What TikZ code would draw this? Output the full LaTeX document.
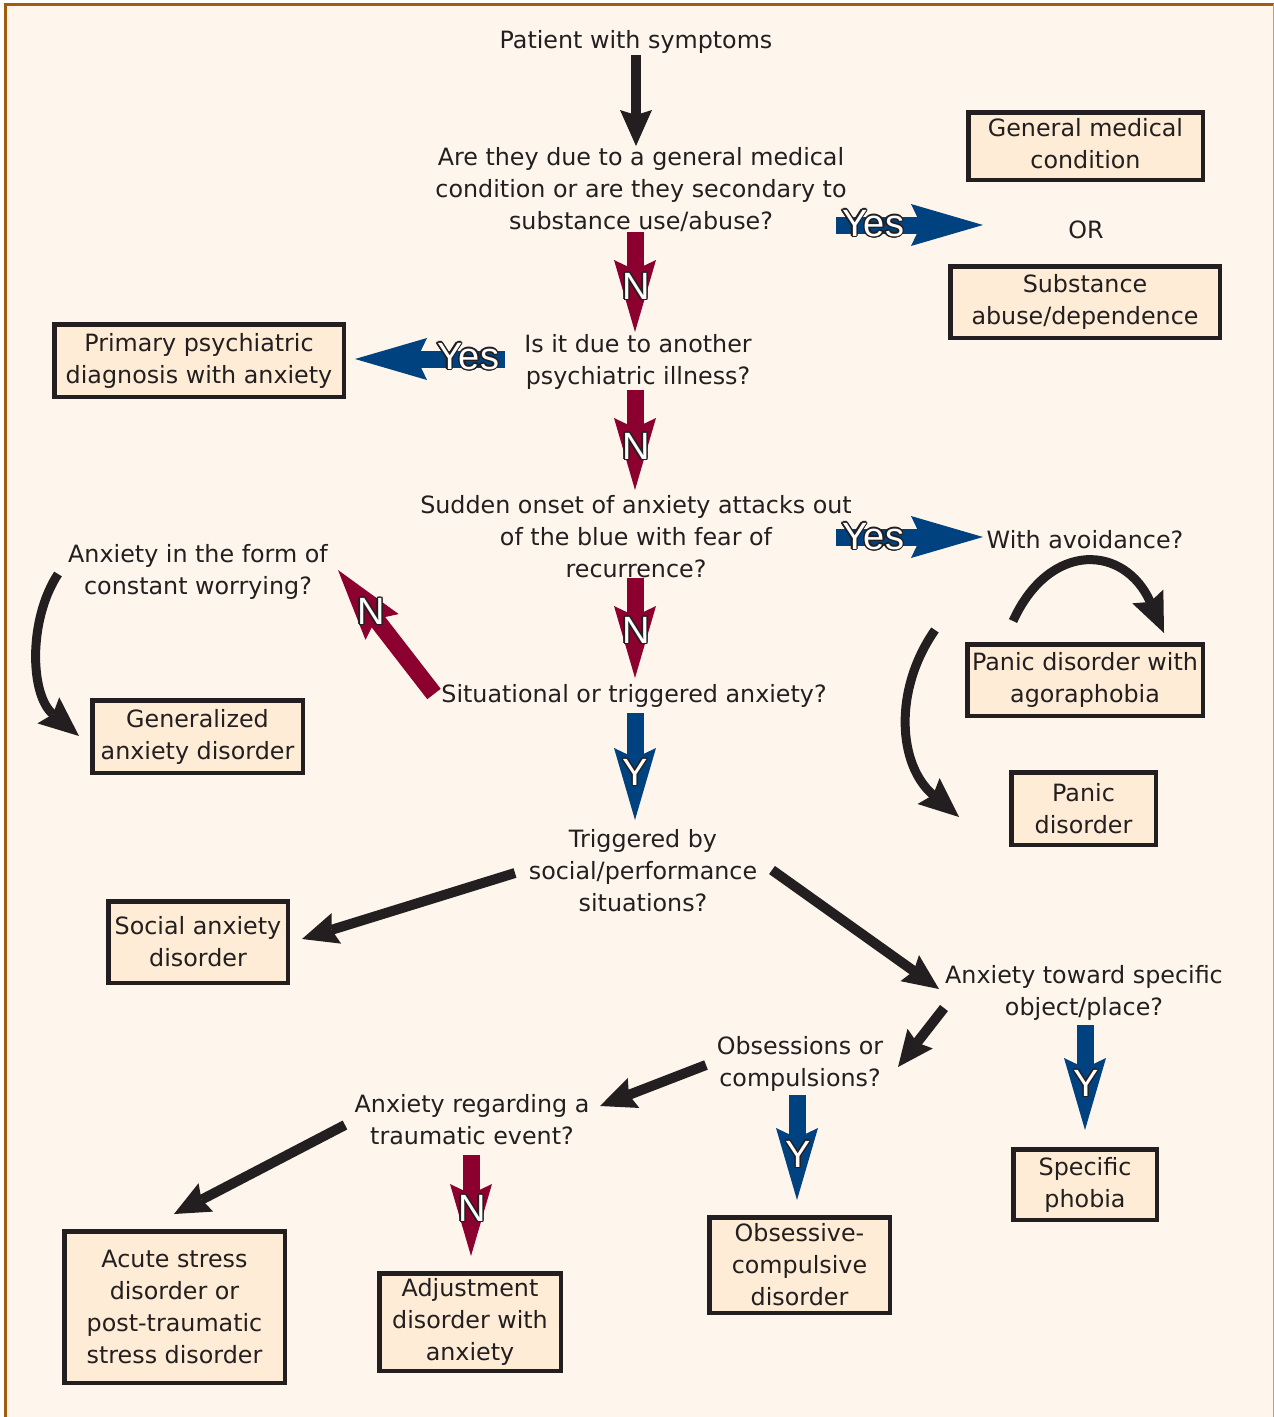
\documentclass[tikz,border=0pt]{standalone}
\usepackage{fontspec}
\setmainfont{DejaVu Sans}
\newfontfamily\labfont{Liberation Sans}
\usepackage{contour}
\usetikzlibrary{arrows.meta}
\definecolor{bgc}{HTML}{FEF6EC}
\definecolor{boxc}{HTML}{FEECD6}
\definecolor{inkc}{HTML}{231F20}
\definecolor{bluec}{HTML}{00427F}
\definecolor{redc}{HTML}{8C0030}
\definecolor{framec}{HTML}{A35C0C}
\contourlength{1.3pt}
\tikzset{
  txt/.style={inner sep=0pt, align=center, text=inkc, font=\fontsize{23.8}{32}\selectfont},
  qtxt/.style={txt, yshift=-2.5pt},
  box/.style={draw=inkc, line width=4.5pt, fill=boxc, inner sep=0pt},
  blk/.style={draw=inkc, line width=10pt, -{Stealth[length=36pt,width=32pt,inset=5pt,line width=0pt]}},
  carr/.style={draw=inkc, line width=9pt, -{Stealth[length=40pt,width=34pt,inset=6pt,line width=0pt]}},
  colarr/.style={draw=#1, line width=17pt, -{Stealth[length=72pt,width=42pt,inset=10pt,line width=0pt]}},
  lab/.style={inner sep=0pt, font=\labfont\fontsize{38}{38}\selectfont}
}
\newcommand{\lbl}[1]{\contour{inkc}{\textcolor{white}{#1}}}
\begin{document}
\begin{tikzpicture}[x=1pt,y=-1pt]
\useasboundingbox (0,0) rectangle (1274,1417);
\fill[white] (0,0) rectangle (1274,1417);
\fill[bgc] (4,3) rectangle (1274,1417);
\draw[framec, line width=3pt] (5.5,1417) -- (5.5,4.5) -- (1274,4.5);
\draw[framec!60, line width=1pt] (1273,4) -- (1273,1417);

% question texts
\node[qtxt] (pat) at (636,39) {Patient with symptoms};
\node[qtxt] (q1) at (641,187) {Are they due to a general medical\\condition or are they secondary to\\substance use/abuse?};
\node[qtxt] (q2) at (638,359) {Is it due to another\\psychiatric illness?};
\node[qtxt] (q3) at (636,534) {Sudden onset of anxiety attacks out\\of the blue with fear of\\recurrence?};
\node[qtxt] (q4) at (634,693) {Situational or triggered anxiety?};
\node[qtxt] (q5) at (643,868) {Triggered by\\social/performance\\situations?};
\node[qtxt] (q6) at (1084,990) {Anxiety toward specific\\object/place?};
\node[qtxt] (q7) at (800,1061) {Obsessions or\\compulsions?};
\node[qtxt] (q8) at (472,1117) {Anxiety regarding a\\traumatic event?};
\node[qtxt] (wa) at (1085,537) {With avoidance?};
\node[qtxt] (aw) at (198,569) {Anxiety in the form of\\constant worrying?};
\node[qtxt] (or) at (1086,227) {OR};

% boxes
\node[box, minimum width=234.5pt, minimum height=67.5pt] (gmc) at (1085.5,146) {};
\node[box, minimum width=269.5pt, minimum height=71.5pt] (sub) at (1085,302) {};
\node[box, minimum width=289.5pt, minimum height=72.5pt] (ppd) at (199,360.5) {};
\node[box, minimum width=235.5pt, minimum height=71.5pt] (pda) at (1085,680) {};
\node[box, minimum width=144.5pt, minimum height=72.5pt] (pd) at (1083.5,808.5) {};
\node[box, minimum width=210.5pt, minimum height=72.5pt] (gad) at (197.5,736.5) {};
\node[box, minimum width=179.5pt, minimum height=81.5pt] (sad) at (198,942) {};
\node[box, minimum width=143.5pt, minimum height=70.5pt] (sp) at (1085,1184.5) {};
\node[box, minimum width=180.5pt, minimum height=95.5pt] (ocd) at (799.5,1265) {};
\node[box, minimum width=220.5pt, minimum height=151.5pt] (asd) at (174.5,1307) {};
\node[box, minimum width=181.5pt, minimum height=97.5pt] (adj) at (470,1322) {};

\node[txt] (gmct) at ([yshift=2pt]gmc.center) {General medical\\condition};
\node[txt] (subt) at (sub.center) {Substance\\abuse/dependence};
\node[txt] (ppdt) at (ppd.center) {Primary psychiatric\\diagnosis with anxiety};
\node[txt] (pdat) at (pda.center) {Panic disorder with\\agoraphobia};
\node[txt] (pdt) at (pd.center) {Panic\\disorder};
\node[txt] (gadt) at (gad.center) {Generalized\\anxiety disorder};
\node[txt] (sadt) at (sad.center) {Social anxiety\\disorder};
\node[txt] (spt) at (sp.center) {Specific\\phobia};
\node[txt] (ocdt) at (ocd.center) {Obsessive-\\compulsive\\disorder};
\node[txt] (asdt) at (asd.center) {Acute stress\\disorder or\\post-traumatic\\stress disorder};
\node[txt] (adjt) at (adj.center) {Adjustment\\disorder with\\anxiety};

% connector end points
\coordinate (p0) at (636,55);   \coordinate (p1) at (636,146);
\coordinate (a0) at (836,225);  \coordinate (a1) at (983,225);
\coordinate (b0) at (635,232);  \coordinate (b1) at (635,332);
\coordinate (c0) at (505,359);  \coordinate (c1) at (355,359);
\coordinate (d0) at (635,390);  \coordinate (d1) at (635,490);
\coordinate (e0) at (836,537);  \coordinate (e1) at (983,537);
\coordinate (f0) at (635,578);  \coordinate (f1) at (635,678);
\coordinate (g0) at (434,694);  \coordinate (g1) at (338,570);
\coordinate (h0) at (635,713);  \coordinate (h1) at (635,820);
\coordinate (i0) at (515,873);  \coordinate (i1) at (302,939);
\coordinate (j0) at (772,870);  \coordinate (j1) at (939,989);
\coordinate (k0) at (1085,1025); \coordinate (k1) at (1085,1130);
\coordinate (l0) at (944,1008); \coordinate (l1) at (898,1067);
\coordinate (m0) at (797,1095); \coordinate (m1) at (797,1200);
\coordinate (n0) at (706,1065); \coordinate (n1) at (600,1106);
\coordinate (o0) at (345,1125); \coordinate (o1) at (174,1214);
\coordinate (r0) at (471,1155); \coordinate (r1) at (471,1256);
\coordinate (s0) at (1013,621); \coordinate (s1) at (1164,633);
\coordinate (t0) at (935,630);  \coordinate (t1) at (959,817);
\coordinate (u0) at (58,574);   \coordinate (u1) at (79,736);

% straight black arrows
\draw[blk] (p0) -- (p1);
\draw[blk] (i0) -- (i1);
\draw[blk] (j0) -- (j1);
\draw[blk] (l0) -- (l1);
\draw[blk] (n0) -- (n1);
\draw[blk] (o0) -- (o1);

% curved arrows
\draw[carr] (s0) .. controls (1050,540) and (1125,545) .. (s1);
\draw[carr] (t0) .. controls (893,690) and (898,765) .. (t1);
\draw[carr] (u0) .. controls (28,620) and (30,695) .. (u1);

% coloured decision arrows
\draw[colarr=bluec] (a0) -- (a1);
\draw[colarr=redc] (b0) -- (b1);
\draw[colarr=bluec] (c0) -- (c1);
\draw[colarr=redc] (d0) -- (d1);
\draw[colarr=bluec] (e0) -- (e1);
\draw[colarr=redc] (f0) -- (f1);
\draw[colarr=redc] (g0) -- (g1);
\draw[colarr=bluec] (h0) -- (h1);
\draw[colarr=bluec] (k0) -- (k1);
\draw[colarr=bluec] (m0) -- (m1);
\draw[colarr=redc] (r0) -- (r1);

% arrow labels
\node[lab] (la) at (873,224) {\lbl{Yes}};
\node[lab] (lb) at (636,287) {\lbl{N}};
\node[lab] (lc) at (468,357) {\lbl{Yes}};
\node[lab] (ld) at (636,447) {\lbl{N}};
\node[lab] (le) at (873,537) {\lbl{Yes}};
\node[lab] (lf) at (636,631) {\lbl{N}};
\node[lab] (lg) at (371,612) {\lbl{N}};
\node[lab] (lh) at (635,773) {\lbl{Y}};
\node[lab] (lk) at (1086,1084) {\lbl{Y}};
\node[lab] (lm) at (798,1155) {\lbl{Y}};
\node[lab] (lr) at (472,1209) {\lbl{N}};
\end{tikzpicture}
\end{document}
